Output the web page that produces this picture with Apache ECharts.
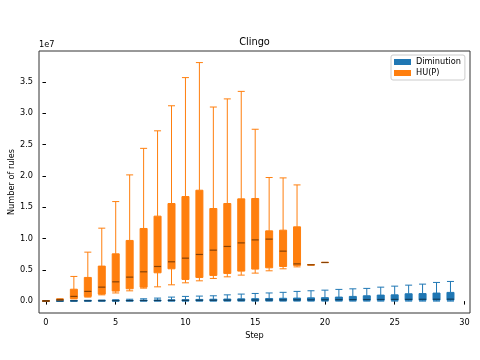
<!DOCTYPE html>
<html>
<head>
    <meta charset="UTF-8">
    <title>Clingo</title>
    <script src="https://cdn.jsdelivr.net/npm/echarts@6/dist/echarts.min.js"></script>
</head>
<style>
    body { margin: 0; padding: 0; background: #fff; }
    #main { width: 480px; height: 360px; }
</style>
<body>
<div id="main"></div>
<script type="text/javascript">
    // values in millions of rules (axis shows them in units of 1e7)
    var steps = [0,1,2,3,4,5,6,7,8,9,10,11,12,13,14,15,16,17,18,19,20,21,22,23,24,25,26,27,28,29];

    // Diminution, one entry per step 0..29
    var dimMin = [0,0,0,0,0,0,0,0,0,0,0,0,0,0,0,0,0,0,0,0,0,0,0,0,0,0,0,0,0,0];
    var dimQ1  = [0.01,0.01,0.02,0.02,0.03,0.03,0.04,0.04,0.05,0.05,0.06,0.06,0.07,0.07,0.08,0.08,0.09,0.09,0.1,0.1,0.11,0.11,0.12,0.12,0.13,0.13,0.14,0.14,0.15,0.15];
    var dimMed = [0.02,0.03,0.04,0.05,0.06,0.07,0.08,0.09,0.1,0.11,0.12,0.13,0.14,0.15,0.16,0.17,0.18,0.19,0.2,0.21,0.22,0.23,0.24,0.25,0.26,0.27,0.28,0.29,0.3,0.31];
    var dimQ3  = [0.03,0.04,0.06,0.08,0.1,0.12,0.14,0.16,0.18,0.2,0.22,0.27,0.3,0.33,0.36,0.39,0.42,0.45,0.48,0.52,0.55,0.64,0.75,0.85,0.96,1.0,1.17,1.2,1.28,1.39];
    var dimMax = [0.04,0.06,0.1,0.13,0.17,0.22,0.3,0.37,0.48,0.64,0.75,0.8,0.85,1.0,1.12,1.22,1.3,1.4,1.55,1.65,1.75,1.87,1.96,2.03,2.23,2.39,2.55,2.71,2.98,3.14];

    // HU(P), one entry per step 0..20
    var hupMin = [0.01,0.18,0.35,0.64,1.0,1.3,1.64,2.07,2.28,2.6,2.92,3.24,3.62,3.88,4.15,4.47,4.84,5.16,5.47,5.76,6.15];
    var hupQ1  = [0.02,0.22,0.43,0.75,1.12,1.6,1.97,2.23,4.52,5.16,3.46,3.78,4.1,4.42,4.79,5.11,5.32,5.53,5.7,5.78,6.16];
    var hupMed = [0.03,0.26,0.75,1.55,2.23,3.08,3.83,4.68,5.53,6.28,6.86,7.45,8.14,8.73,9.3,9.78,9.9,7.98,5.95,5.8,6.17];
    var hupQ3  = [0.04,0.31,1.9,3.78,5.59,7.55,9.69,11.6,13.57,15.59,16.7,17.71,14.79,15.59,16.33,16.39,11.22,11.33,11.86,5.82,6.18];
    var hupMax = [0.05,0.36,3.94,7.82,11.65,15.9,20.16,24.4,27.2,31.2,35.7,38.1,31.0,32.3,33.5,27.45,19.74,19.68,18.56,5.84,6.19];

    var yTicks = [0, 5, 10, 15, 20, 25, 30, 35];
    var xTicks = [0, 5, 10, 15, 20, 25, 30];

    function boxData(mn, q1, md, q3, mx) {
        var out = [];
        for (var i = 0; i < mn.length; i++) {
            out.push([steps[i], mn[i], q1[i], md[i], q3[i], mx[i]]);
        }
        return out;
    }
    function medData(md) {
        var out = [];
        for (var i = 0; i < md.length; i++) {
            out.push([steps[i], md[i]]);
        }
        return out;
    }

    var myChart = echarts.init(document.getElementById('main'));
    var font = 'DejaVu Sans';
    var xBase = {
        type: 'value', min: -0.5, max: 30.4,
        axisLine: { show: false },
        splitLine: { show: false }
    };

    var option = {
        animation: false,
        backgroundColor: '#fff',
        textStyle: { fontFamily: font },
        grid: {
            left: 39, right: 10, top: 51, bottom: 47, outerBoundsMode: 'none',
            show: true, borderColor: '#333', borderWidth: 1
        },
        graphic: [
            { type: 'text', x: 254.5, y: 42, style: { text: 'Clingo', font: '9.8px DejaVu Sans', fill: '#000', textAlign: 'center', textVerticalAlign: 'middle' } },
            { type: 'text', x: 39, y: 45, style: { text: '1e7', font: '8.2px DejaVu Sans', fill: '#000', textAlign: 'left', textVerticalAlign: 'middle' } }
        ],
        legend: {
            orient: 'vertical', left: 391, top: 55,
            data: ['Diminution', 'HU(P)'],
            icon: 'rect', itemWidth: 17, itemHeight: 6, itemGap: 3,
            padding: [3, 4, 3, 3],
            borderColor: '#ccc', borderWidth: 1, borderRadius: 2,
            itemStyle: { borderWidth: 0 },
            textStyle: { fontSize: 8.2, color: '#000', fontFamily: font }
        },
        xAxis: [
            echarts.util.merge({
                name: 'Step', nameLocation: 'middle', nameGap: 17,
                nameTextStyle: { fontSize: 8.2, color: '#000' },
                axisTick: { show: true, length: 3.5, lineStyle: { color: '#000' }, customValues: xTicks },
                axisLabel: { fontSize: 8.2, color: '#000', margin: 6, customValues: xTicks }
            }, xBase),
            echarts.util.merge({ show: false }, xBase)
        ],
        yAxis: {
            type: 'value', min: -1.9, max: 39.95,
            name: 'Number of rules', nameLocation: 'middle', nameGap: 27, nameMoveOverlap: false,
            nameTextStyle: { fontSize: 8.2, color: '#000', verticalAlign: 'middle' },
            axisLine: { show: false },
            splitLine: { show: false },
            axisTick: { show: true, length: 3.5, lineStyle: { color: '#000' }, customValues: yTicks },
            axisLabel: {
                fontSize: 8.2, color: '#000', margin: 6, customValues: yTicks,
                formatter: function (v) { return (v / 10).toFixed(1); }
            }
        },
        series: [
            {
                name: 'Diminution', type: 'boxplot', xAxisIndex: 0,
                data: boxData(dimMin, dimQ1, dimMed, dimQ3, dimMax),
                boxWidth: [7, 7],
                itemStyle: { color: '#1f77b4', borderColor: '#1f77b4', borderWidth: 1 },
                emphasis: { disabled: true }
            },
            {
                name: 'HU(P)', type: 'boxplot', xAxisIndex: 1,
                data: boxData(hupMin, hupQ1, hupMed, hupQ3, hupMax),
                boxWidth: [7, 7],
                itemStyle: { color: '#ff7f0e', borderColor: '#ff7f0e', borderWidth: 1 },
                emphasis: { disabled: true }
            },
            {
                name: 'dimMedian', type: 'scatter', xAxisIndex: 0,
                data: medData(dimMed),
                symbol: 'rect', symbolSize: [7, 1.2],
                itemStyle: { color: 'rgba(0,0,0,0.6)' },
                emphasis: { disabled: true }
            },
            {
                name: 'hupMedian', type: 'scatter', xAxisIndex: 0,
                data: medData(hupMed),
                symbol: 'rect', symbolSize: [7, 1.2],
                itemStyle: { color: 'rgba(0,0,0,0.6)' },
                emphasis: { disabled: true }
            }
        ]
    };

    myChart.setOption(option);
</script>
</body>
</html>
